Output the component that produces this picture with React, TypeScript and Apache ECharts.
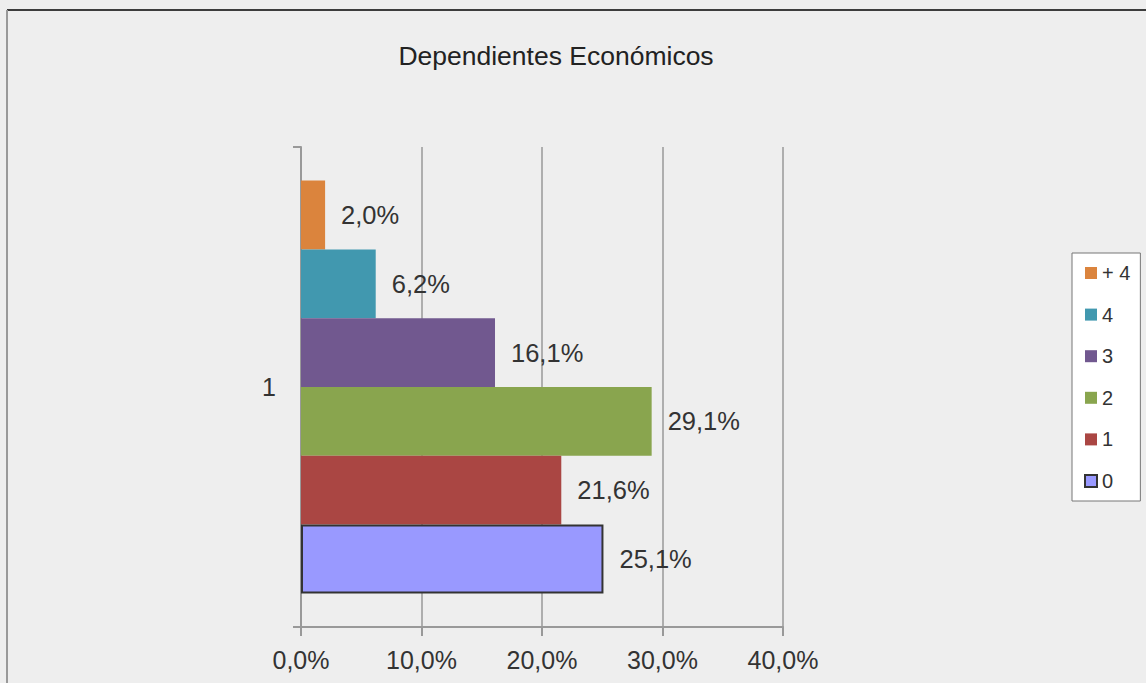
import React, { useEffect, useRef } from "react";
import * as echarts from "echarts";

const categories = ["1"];
const seriesNames = ["+ 4", "4", "3", "2", "1", "0"];
const seriesValues = [2.0, 6.2, 16.1, 29.1, 21.6, 25.1];
const seriesColors = ["#DB843D", "#4198AF", "#71588F", "#89A54E", "#AA4643", "#9999FF"];
const xTicks = { min: 0, max: 40, interval: 10 };
const titleText = "Dependientes Económicos";

const fmt = (v: number) => v.toFixed(1).replace(".", ",") + "%";
const FONT = "Liberation Sans, Arial, sans-serif";

export default function App() {
  const ref = useRef<HTMLDivElement>(null);
  useEffect(() => {
    const chart = echarts.init(ref.current!, null, { renderer: "svg" });
    chart.setOption({
      animation: false,
      backgroundColor: "#EEEEEE",
      textStyle: { fontFamily: FONT },
      title: {
        text: titleText,
        left: 551,
        textAlign: "center",
        top: 37,
        textStyle: { fontSize: 26.5, fontWeight: "normal", color: "#222222", fontFamily: FONT },
      },
      graphic: [
        { type: "line", shape: { x1: 7, y1: 10, x2: 1146, y2: 10 }, style: { stroke: "#3c3c3c", lineWidth: 2 } },
        { type: "line", shape: { x1: 7, y1: 10, x2: 7, y2: 683 }, style: { stroke: "#999999", lineWidth: 2 } },
      ],
      legend: {
        orient: "vertical",
        left: 1072,
        top: 253,
        width: 70,
        backgroundColor: "#FFFFFF",
        borderColor: "#777777",
        borderWidth: 1,
        padding: [10, 10, 10, 12],
        itemWidth: 12,
        itemHeight: 12,
        itemGap: 21.6,
        icon: "rect",
        data: seriesNames,
        textStyle: { fontSize: 20, color: "#333333", fontFamily: FONT, lineHeight: 20 },
      },
      grid: { left: 301, right: 363, top: 147, bottom: 56, containLabel: false },
      xAxis: {
        type: "value",
        min: xTicks.min,
        max: xTicks.max,
        interval: xTicks.interval,
        axisLine: { show: true, lineStyle: { color: "#999999", width: 2 } },
        axisTick: { show: true, length: 9, lineStyle: { color: "#999999", width: 2 } },
        axisLabel: { formatter: (v: number) => fmt(v), fontSize: 25, color: "#333333", margin: 20, fontFamily: FONT },
        splitLine: { show: true, lineStyle: { color: "#999999", width: 1.5 } },
      },
      yAxis: {
        type: "category",
        data: categories,
        axisLine: { show: true, lineStyle: { color: "#999999", width: 2 } },
        axisTick: { show: true, length: 8, lineStyle: { color: "#999999", width: 2 } },
        axisLabel: { fontSize: 25, color: "#333333", margin: 25, fontFamily: FONT },
      },
      series: seriesNames.map((name, i) => ({
        name,
        type: "bar",
        data: [seriesValues[i]],
        barGap: "0%",
        barCategoryGap: "14%",
        itemStyle:
          name === "0"
            ? { color: seriesColors[i], borderColor: "#333333", borderWidth: 2 }
            : { color: seriesColors[i] },
        label: {
          show: true,
          position: "right",
          distance: 16,
          formatter: (p: any) => fmt(p.value),
          fontSize: 25.5,
          color: "#333333",
          fontFamily: FONT,
        },
      })),
    });
    return () => chart.dispose();
  }, []);
  return (
    <div
      ref={ref}
      style={{ position: "absolute", left: 0, top: 0, width: 1146, height: 683 }}
    />
  );
}
